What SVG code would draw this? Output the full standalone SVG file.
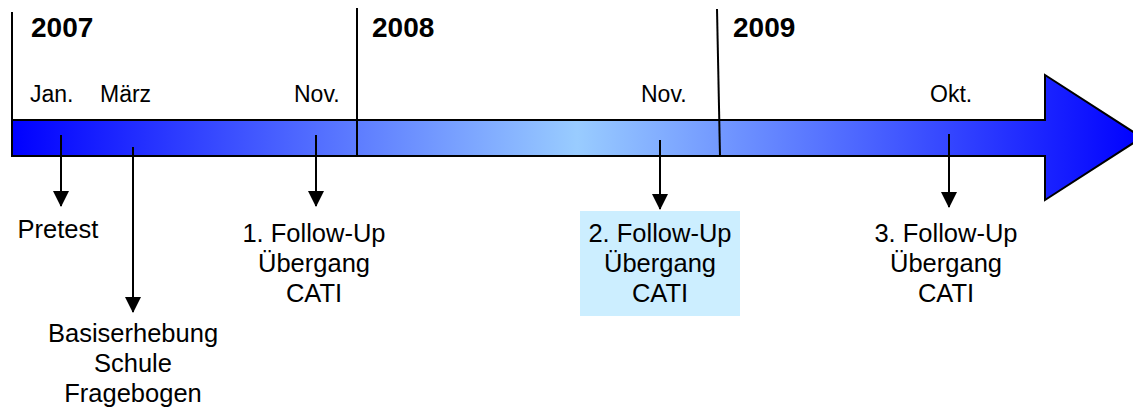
<svg xmlns="http://www.w3.org/2000/svg" width="1133" height="409" viewBox="0 0 1133 409">
  <style>
    text { font-family: "Liberation Sans", Arial, sans-serif; fill: #000; }
    .year { font-size: 28px; font-weight: bold; }
    .month { font-size: 23px; }
    .lbl { font-size: 25.5px; text-anchor: middle; }
    .div { stroke: #000; stroke-width: 2; fill: none; }
    .conn { stroke: #000; stroke-width: 2; fill: none; marker-end: url(#ah); }
  </style>
  <defs>
    <linearGradient id="grad" gradientUnits="userSpaceOnUse" x1="12" y1="0" x2="1142" y2="0">
      <stop offset="0" stop-color="#0000ff"/>
      <stop offset="0.5" stop-color="#99ccff"/>
      <stop offset="1" stop-color="#0000ff"/>
    </linearGradient>
    <marker id="ah" markerUnits="userSpaceOnUse" markerWidth="16" markerHeight="16" refX="15" refY="8" orient="auto" viewBox="0 0 16 16">
      <path d="M0,0 L16,8 L0,16 Z" fill="#000"/>
    </marker>
  </defs>

  <g id="timeline">
    <polygon points="12,120 1045,120 1045,75 1142,137.5 1045,200 1045,156 12,156" fill="url(#grad)" stroke="#000" stroke-width="2"/>
  </g>

  <g id="dividers">
    <line class="div" x1="12" y1="12" x2="12" y2="157"/>
    <line class="div" x1="357" y1="8" x2="357" y2="157"/>
    <line class="div" x1="717" y1="9" x2="720" y2="156"/>
  </g>

  <g id="years">
    <text class="year" x="31" y="37">2007</text>
    <text class="year" x="372" y="37">2008</text>
    <text class="year" x="733" y="37">2009</text>
  </g>

  <g id="months">
    <text class="month" x="30" y="102">Jan.</text>
    <text class="month" x="100" y="102">März</text>
    <text class="month" x="294" y="102">Nov.</text>
    <text class="month" x="641" y="102">Nov.</text>
    <text class="month" x="930" y="102">Okt.</text>
  </g>

  <g id="connectors">
    <line class="conn" x1="61" y1="135" x2="61" y2="206"/>
    <line class="conn" x1="133" y1="147" x2="133" y2="312"/>
    <line class="conn" x1="316" y1="135" x2="316" y2="206"/>
    <line class="conn" x1="660" y1="140" x2="660" y2="209"/>
    <line class="conn" x1="949" y1="134" x2="949" y2="207"/>
  </g>

  <g id="pretest">
    <text class="lbl" x="58" y="238">Pretest</text>
  </g>

  <g id="basiserhebung">
    <text class="lbl" x="133" y="342">Basiserhebung</text>
    <text class="lbl" x="133" y="372">Schule</text>
    <text class="lbl" x="133" y="402">Fragebogen</text>
  </g>

  <g id="followup1">
    <text class="lbl" x="314" y="242">1. Follow-Up</text>
    <text class="lbl" x="314" y="272">Übergang</text>
    <text class="lbl" x="314" y="302">CATI</text>
  </g>

  <g id="followup2">
    <rect x="580" y="211" width="160" height="105" fill="#cceeff"/>
    <text class="lbl" x="660" y="242">2. Follow-Up</text>
    <text class="lbl" x="660" y="272">Übergang</text>
    <text class="lbl" x="660" y="302">CATI</text>
  </g>

  <g id="followup3">
    <text class="lbl" x="946" y="242">3. Follow-Up</text>
    <text class="lbl" x="946" y="272">Übergang</text>
    <text class="lbl" x="946" y="302">CATI</text>
  </g>
</svg>
